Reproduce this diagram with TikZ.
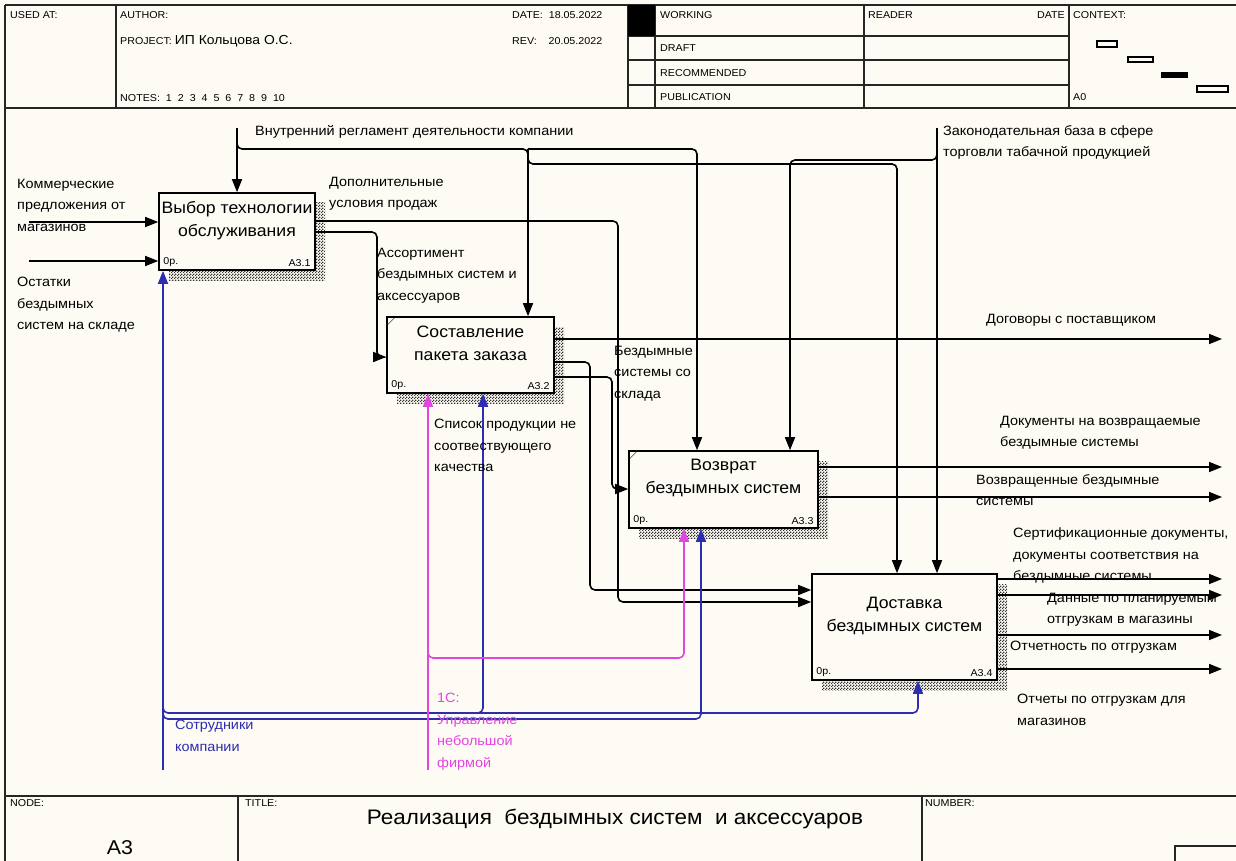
\documentclass[tikz,border=0pt]{standalone}
\usepackage{fontspec}
\setmainfont{Liberation Sans}[FakeStretch=1.07]
\usetikzlibrary{arrows.meta,patterns,shadows}

\definecolor{fond}{RGB}{253,251,243}
\definecolor{meca}{RGB}{45,45,175}
\definecolor{logi}{RGB}{225,70,225}

\pgfdeclarepatternformonly{damier}{\pgfpointorigin}{\pgfpoint{3pt}{3pt}}{\pgfpoint{3pt}{3pt}}{%
  \pgfpathrectangle{\pgfpointorigin}{\pgfpoint{1.5pt}{1.5pt}}%
  \pgfpathrectangle{\pgfpoint{1.5pt}{1.5pt}}{\pgfpoint{1.5pt}{1.5pt}}%
  \pgfusepath{fill}}

\begin{document}
\begin{tikzpicture}[x=1pt,y=-1pt,
  boite/.style={draw,line width=1.6pt,fill=fond,
    general shadow={shadow xshift=10pt,shadow yshift=-10pt,
      pattern=damier,pattern color=black!80}},
  titre/.style={align=center,inner sep=0pt,font=\fontsize{16.5}{23}\selectfont},
  etiq/.style={anchor=north west,align=left,inner sep=0pt,
    font=\fontsize{13.5}{21.5}\selectfont},
  code/.style={inner sep=0pt,font=\fontsize{10}{12}\selectfont},
  entete/.style={anchor=west,inner sep=0pt,font=\fontsize{10}{12}\selectfont},
  cadre/.style={line width=1.6pt,draw=black!85},
  fleche/.style={line width=1.6pt,rounded corners=5pt,
    -{Triangle[length=13pt,width=10pt]}}]

\fill[fond] (0,0) rectangle (1236,861);
\useasboundingbox (0,0) rectangle (1236,861);

% Cadre
\draw[cadre] (5,5) -- (1236,5);
\draw[cadre] (5,5) -- (5,861);
\draw[cadre] (5,108) -- (1236,108);
\draw[cadre] (5,796) -- (1236,796);
\draw[cadre] (116,5) -- (116,108);
\draw[cadre] (628,5) -- (628,108);
\draw[cadre] (655,5) -- (655,108);
\draw[cadre] (864,5) -- (864,108);
\draw[cadre] (1069,5) -- (1069,108);
\draw[cadre] (628,36) -- (1069,36);
\draw[cadre] (628,60) -- (1069,60);
\draw[cadre] (628,85) -- (1069,85);
\fill (628,5) rectangle (655,36);
\draw[cadre] (238,796) -- (238,861);
\draw[cadre] (922,796) -- (922,861);
\draw[cadre] (1175,846) rectangle (1240,865);

% Contexte
\draw[line width=1.2pt] (1097,41) rectangle (1117,47);
\draw[line width=1.2pt] (1128,57) rectangle (1153,62);
\fill (1161,72) rectangle (1188,78);
\draw[line width=1.2pt] (1197,86) rectangle (1228,92);

% En-tete
\node[entete] (usedat) at (10,15) {USED AT:};
\node[entete] (author) at (120,15) {AUTHOR:};
\node[entete] (project) at (120,41) {PROJECT: {\fontsize{13}{15}\selectfont ИП Кольцова О.С.}};
\node[entete] (notes) at (120,98) {NOTES:\ \ 1\ \ 2\ \ 3\ \ 4\ \ 5\ \ 6\ \ 7\ \ 8\ \ 9\ \ 10};
\node[entete] (date) at (512,15) {DATE:\ \ 18.05.2022};
\node[entete] (rev) at (512,41) {REV:\ \ \ \ 20.05.2022};
\node[entete] (working) at (660,15) {WORKING};
\node[entete] (draft) at (660,48) {DRAFT};
\node[entete] (recom) at (660,73) {RECOMMENDED};
\node[entete] (publi) at (660,97) {PUBLICATION};
\node[entete] (reader) at (868,15) {READER};
\node[entete,anchor=east] (rdate) at (1065,15) {DATE};
\node[entete] (context) at (1073,15) {CONTEXT:};
\node[entete] (azero) at (1073,97) {A0};

% Pied
\node[entete] (nodel) at (10,803) {NODE:};
\node[entete] (titlel) at (245,803) {TITLE:};
\node[entete] (numberl) at (925,803) {NUMBER:};
\node[inner sep=0pt,font=\fontsize{21}{24}\selectfont] (titreg) at (615,819) {Реализация\ \ бездымных систем\ \ и аксессуаров};
\node[inner sep=0pt,font=\fontsize{20}{24}\selectfont] (noeud) at (120,848) {A3};

% Boites
\node[boite,minimum width=156pt,minimum height=77pt] (b1) at (237,231.5) {};
\node[boite,minimum width=167pt,minimum height=76pt] (b2) at (470.5,355) {};
\node[boite,minimum width=189pt,minimum height=77pt] (b3) at (723.5,489.5) {};
\node[boite,minimum width=185pt,minimum height=106pt] (b4) at (904.5,627) {};

\draw ([yshift=-10pt]b2.north west) -- ([xshift=10pt]b2.north west);
\draw ([yshift=-10pt]b3.north west) -- ([xshift=10pt]b3.north west);

\node[titre] (t1) at ([yshift=-28.5pt]b1.north) {Выбор технологии\\обслуживания};
\node[titre] (t2) at ([yshift=-27.5pt]b2.north) {Составление\\пакета заказа};
\node[titre] (t3) at ([yshift=-27.5pt]b3.north) {Возврат\\бездымных систем};
\node[titre] (t4) at ([yshift=-43pt]b4.north) {Доставка\\бездымных систем};

\node[code,anchor=south west] (c1) at ([shift={(5pt,4pt)}]b1.south west) {0р.};
\node[code,anchor=south east] (n1) at ([shift={(-5pt,4pt)}]b1.south east) {А3.1};
\node[code,anchor=south west] (c2) at ([shift={(5pt,4pt)}]b2.south west) {0р.};
\node[code,anchor=south east] (n2) at ([shift={(-5pt,4pt)}]b2.south east) {А3.2};
\node[code,anchor=south west] (c3) at ([shift={(5pt,4pt)}]b3.south west) {0р.};
\node[code,anchor=south east] (n3) at ([shift={(-5pt,4pt)}]b3.south east) {А3.3};
\node[code,anchor=south west] (c4) at ([shift={(5pt,4pt)}]b4.south west) {0р.};
\node[code,anchor=south east] (n4) at ([shift={(-5pt,4pt)}]b4.south east) {А3.4};

% Entrees
\coordinate (kom) at (29,222);
\coordinate (ost) at (29,261);
\draw[fleche] (kom) -- (kom -| b1.west);
\draw[fleche] (ost) -- (ost -| b1.west);

% Controles
\coordinate (reg) at (237,128);
\coordinate (regA) at (528,149);
\coordinate (regB) at (697,149);
\coordinate (regC) at (897,164);
\draw[fleche] (reg) -- (b1.north);
\draw[fleche] (237,140) |- (regA) -- (regA |- b2.north);
\draw[fleche] (regA) -- (regB) -- (regB |- b3.north);
\draw[fleche] (regA) |- (regC) -- (regC |- b4.north);

\coordinate (zak) at (937,128);
\coordinate (zakA) at (790,160);
\draw[fleche] (zak) -- (zak |- b4.north);
\draw[fleche] (937,150) |- (zakA) -- (zakA |- b3.north);

% Sorties A3.1
\coordinate (dop) at (618,221);
\coordinate (dopB) at (618,602);
\draw[fleche] (dop -| b1.east) -- (dop) -- (dopB) -- (dopB -| b4.west);
\coordinate (ass) at (377,232);
\coordinate (assB) at (377,357);
\draw[fleche] (ass -| b1.east) -- (ass) -- (assB) -- (assB -| b2.west);

% Sorties A3.2
\coordinate (dog) at (1222,339);
\draw[fleche] (dog -| b2.east) -- (dog);
\coordinate (sklA) at (590,362);
\coordinate (sklB) at (590,590);
\draw[fleche] (sklA -| b2.east) -- (sklA) -- (sklB) -- (sklB -| b4.west);
\coordinate (vozA) at (612,377);
\coordinate (vozB) at (612,489);
\draw[fleche] (vozA -| b2.east) -- (vozA) -- (vozB) -- (vozB -| b3.west);

% Sorties A3.3
\coordinate (docv) at (1222,467);
\coordinate (vozv) at (1222,497);
\draw[fleche] (docv -| b3.east) -- (docv);
\draw[fleche] (vozv -| b3.east) -- (vozv);

% Sorties A3.4
\coordinate (sert) at (1222,579);
\coordinate (dann) at (1222,595);
\coordinate (otch) at (1222,635);
\coordinate (otdl) at (1222,669);
\draw[fleche] (sert -| b4.east) -- (sert);
\draw[fleche] (dann -| b4.east) -- (dann);
\draw[fleche] (otch -| b4.east) -- (otch);
\draw[fleche] (otdl -| b4.east) -- (otdl);

% Mecanismes
\coordinate (sotr) at (163,770);
\coordinate (sotrA) at (918,713);
\coordinate (sotrB) at (701,719);
\coordinate (sotrC) at (483,713);
\draw[fleche,meca] (sotr) -- (sotr |- b1.south);
\draw[fleche,meca] (163,705) |- (sotrA) -- (sotrA |- b4.south);
\draw[fleche,meca] (163,711) |- (sotrB) -- (sotrB |- b3.south);
\draw[fleche,meca] (475,713) -| (sotrC |- b2.south);

\coordinate (onec) at (428,770);
\coordinate (onecA) at (684,658);
\draw[fleche,logi] (onec) -- (onec |- b2.south);
\draw[fleche,logi] (428,650) |- (onecA) -- (onecA |- b3.south);

% Libelles
\node[etiq] (lkom) at (17,179) {Коммерческие\\предложения от\\магазинов};
\node[etiq] (lost) at (17,277) {Остатки\\бездымных\\систем на складе};
\node[etiq] (lreg) at (255,125) {Внутренний регламент деятельности компании};
\node[etiq] (ldop) at (329,177) {Дополнительные\\условия продаж};
\node[etiq] (lass) at (377,248) {Ассортимент\\бездымных систем и\\аксессуаров};
\node[etiq] (lskl) at (614,346) {Бездымные\\системы со\\склада};
\node[etiq] (lspi) at (434,419) {Список продукции не\\соотвествующего\\качества};
\node[etiq] (lzak) at (943,125) {Законодательная база в сфере\\торговли табачной продукцией};
\node[etiq] (ldog) at (986,314) {Договоры с поставщиком};
\node[etiq] (ldocv) at (1000,416) {Документы на возвращаемые\\бездымные системы};
\node[etiq] (lvozv) at (976,474) {Возвращенные бездымные\\системы};
\node[etiq] (lsert) at (1013,528) {Сертификационные документы,\\документы соответствия на\\бездымные системы};
\node[etiq] (ldann) at (1047,593) {Данные по планируемым\\отгрузкам в магазины};
\node[etiq] (lotch) at (1010,641) {Отчетность по отгрузкам};
\node[etiq] (lotdl) at (1017,694) {Отчеты по отгрузкам для\\магазинов};
\node[etiq,text=meca] (lsotr) at (175,720) {Сотрудники\\компании};
\node[etiq,text=logi] (lonec) at (437,693) {1С:\\Управление\\небольшой\\фирмой};

\end{tikzpicture}
\end{document}
